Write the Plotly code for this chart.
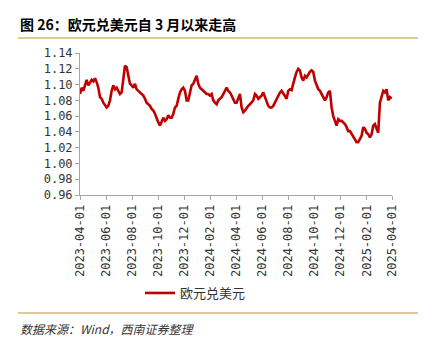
import pandas as pd
import plotly.graph_objects as go

# EUR/USD readings, evenly spaced from 2023-04-01 to 2025-03-31
values = [
    1.088, 1.096, 1.092, 1.099, 1.106, 1.099, 1.103, 1.106, 1.104, 1.108,
    1.103, 1.096, 1.084, 1.082, 1.077, 1.073, 1.071, 1.073, 1.080, 1.092,
    1.099, 1.094, 1.096, 1.092, 1.088, 1.090, 1.105, 1.124, 1.122, 1.109,
    1.101, 1.099, 1.096, 1.101, 1.094, 1.092, 1.090, 1.088, 1.086, 1.082,
    1.077, 1.075, 1.073, 1.069, 1.067, 1.063, 1.056, 1.052, 1.048, 1.054,
    1.058, 1.054, 1.056, 1.061, 1.058, 1.058, 1.063, 1.071, 1.073, 1.082,
    1.090, 1.094, 1.096, 1.092, 1.080, 1.080, 1.092, 1.099, 1.101, 1.105,
    1.111, 1.101,
    1.096, 1.094, 1.092, 1.090, 1.088, 1.088, 1.086, 1.088, 1.080, 1.077,
    1.075, 1.080, 1.082, 1.084, 1.088, 1.092, 1.096, 1.092, 1.090, 1.086,
    1.082, 1.077, 1.077, 1.084, 1.088, 1.071, 1.065, 1.067, 1.071, 1.073,
    1.075, 1.077, 1.080, 1.088, 1.086, 1.082, 1.084, 1.086, 1.090, 1.084,
    1.077, 1.073, 1.071, 1.071, 1.073, 1.077, 1.082, 1.086, 1.090, 1.092,
    1.088, 1.086, 1.082, 1.092, 1.094, 1.093, 1.103, 1.109, 1.116, 1.120,
    1.118, 1.109, 1.105, 1.111, 1.109, 1.113, 1.116, 1.118, 1.116, 1.105,
    1.099, 1.094, 1.092, 1.088, 1.082, 1.080, 1.084, 1.090, 1.092, 1.071,
    1.060, 1.054, 1.048, 1.056, 1.054, 1.054, 1.052, 1.050, 1.046, 1.041,
    1.041, 1.037, 1.035, 1.029, 1.027, 1.027, 1.031, 1.035, 1.046, 1.044,
    1.039, 1.037, 1.033, 1.037, 1.048, 1.050, 1.044, 1.039, 1.077, 1.086,
    1.092, 1.090, 1.094, 1.080, 1.084, 1.082,
]
start_date = "2023-04-01"
end_date = "2025-03-31"
dates = pd.date_range(start_date, end_date, periods=len(values))

series_name = "欧元兑美元"
tick_dates = ["2023-04-01", "2023-06-01", "2023-08-01", "2023-10-01", "2023-12-01",
              "2024-02-01", "2024-04-01", "2024-06-01", "2024-08-01", "2024-10-01",
              "2024-12-01", "2025-02-01", "2025-04-01"]
y_ticks = [0.96, 0.98, 1.00, 1.02, 1.04, 1.06, 1.08, 1.10, 1.12, 1.14]
title_text = "图 26：欧元兑美元自 3 月以来走高"
source_text = "数据来源：Wind，西南证券整理"

# layout geometry (pixels)
W, H = 424, 345
L, R, T, B = 80, 392, 53, 195
pw, ph = R - L, B - T
def px(x): return (x - L) / pw
def py(y): return (B - y) / ph

mono = "DejaVu Sans Mono"
cjk = "Noto Sans CJK SC"
gold = "#D8B57C"
axis_gray = "#A6A6A6"

fig = go.Figure()
fig.add_trace(go.Scatter(x=dates, y=values, mode="lines", name=series_name,
                         line=dict(color="#C00000", width=2.6)))

fig.update_layout(
    width=W, height=H,
    margin=dict(l=L, r=W - R, t=T, b=H - B),
    paper_bgcolor="white", plot_bgcolor="white",
    showlegend=True,
    legend=dict(orientation="h", x=px(140), xanchor="left", y=py(293), yanchor="middle",
                font=dict(family=cjk, size=13, color="#333333"),
                itemwidth=30, bgcolor="rgba(0,0,0,0)"),
    xaxis=dict(type="date", range=[tick_dates[0], tick_dates[-1]],
               tickvals=tick_dates, ticktext=tick_dates, tickangle=-90,
               tickfont=dict(family=mono, size=12, color="#333333"),
               showgrid=False, zeroline=False, showline=True, linecolor=axis_gray,
               linewidth=1, ticks="outside", ticklen=4, tickcolor=axis_gray),
    yaxis=dict(range=[y_ticks[0], y_ticks[-1]], tickvals=y_ticks,
               ticktext=[f"{v:.2f}" for v in y_ticks],
               tickfont=dict(family=mono, size=12, color="#333333"),
               showgrid=False, zeroline=False, showline=True, linecolor=axis_gray,
               linewidth=1, ticks="outside", ticklen=4, tickcolor=axis_gray),
)

fig.add_shape(type="line", xref="paper", yref="paper", x0=px(18), x1=px(418),
              y0=py(38), y1=py(38), line=dict(color=gold, width=1.5))
fig.add_shape(type="line", xref="paper", yref="paper", x0=px(18), x1=px(418),
              y0=py(313), y1=py(313), line=dict(color=gold, width=1.5))

fig.add_annotation(text="<b>" + title_text + "</b>", xref="paper", yref="paper",
                   x=px(18), y=py(24), xanchor="left", yanchor="middle", showarrow=False,
                   font=dict(family=cjk, size=14, color="#000000"))
fig.add_annotation(text="<i>" + source_text + "</i>", xref="paper", yref="paper",
                   x=px(18), y=py(328), xanchor="left", yanchor="middle", showarrow=False,
                   font=dict(family=cjk, size=12, color="#333333"))

fig.write_html("out.html")
